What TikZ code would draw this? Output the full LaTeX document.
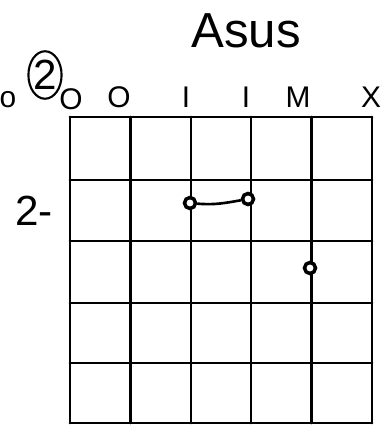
\documentclass[tikz,border=0pt]{standalone}
\usepackage{fontspec}
\setmainfont{Liberation Sans}
\usetikzlibrary{shapes.geometric,positioning}

\begin{document}
\begin{tikzpicture}[x=0.02cm, y=-0.02cm,
    fret/.style={line width=1.6pt, line cap=round},
    lbl/.style={anchor=base, font=\fontsize{17}{17}\selectfont},
    dot/.style={circle, draw, line width=2pt, fill=white, inner sep=0pt, minimum size=0.22cm},
    bar/.style={line width=1.5pt},
  ]
    \useasboundingbox (0,0) rectangle (383,429);

    % grid
    \foreach \x in {70,130.5,191,251,311.5,372}
      \draw[fret] (\x,117) -- (\x,423);
    \foreach \y in {117,180,241,303,363,423}
      \draw[fret] (70,\y) -- (372,\y);

    % title
    \node[anchor=base, font=\fontsize{28}{28}\selectfont] (title) at (246,48) {Asus};

    % string labels
    \node[lbl] (lo) at (8,108) {o};
    \node[ellipse, draw, line width=1.2pt, minimum width=0.44cm, minimum height=0.95cm,
          inner sep=0pt, font=\fontsize{24}{24}\selectfont] (two) at (45,75) {2};
    \node[lbl] (s1) at (71,110) {O};
    \node[lbl] (s2) at (119,108) {O};
    \node[lbl] (s3) at (186,108) {I};
    \node[lbl] (s4) at (246,108) {I};
    \node[lbl] (s5) at (298,108) {M};
    \node[lbl] (s6) at (371,108) {X};

    % fret number
    \node[anchor=base, font=\fontsize{24}{24}\selectfont] (fr) at (34,225) {2-};

    % fingers
    \node[dot] (f1) at (190,203) {};
    \node[dot] (f2) at (248,199) {};
    \node[dot] (f3) at (310,268) {};
    \draw[bar] (f1) to[out=-5,in=190] (f2);
  \end{tikzpicture}
\end{document}
